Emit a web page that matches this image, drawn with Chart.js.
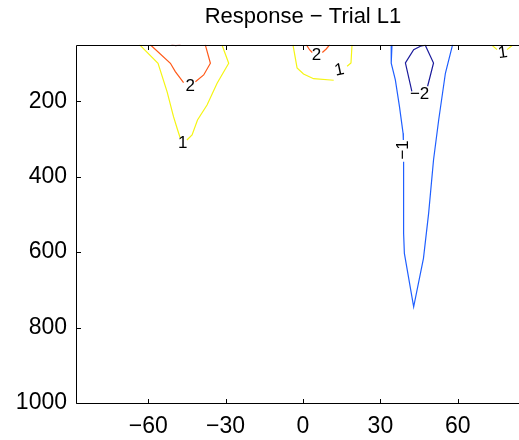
<!DOCTYPE html>
<html><head><meta charset="utf-8">
<script src="https://cdn.jsdelivr.net/npm/chart.js@4.4.1/dist/chart.umd.min.js"></script>
<style>html,body{margin:0;padding:0;overflow:hidden;background:#fff}#wrap{width:519px;height:440px;overflow:hidden}</style>
</head><body><div id="wrap"><canvas id="c" width="531" height="440"></canvas></div>
<script>
// Tick labels
const xTicks = [-60, -30, 0, 30, 60];
const yTicks = [200, 400, 600, 800, 1000];

// Contour level +1 (yellow), null = gap for inline label
const c1LeftX  = [-63.4, -56.2, -52.7, -50.2, -48.6, -47.6, null, -45.0, -43.0, -40.9, -37.2, -33.3, -28.8, -31.4];
const c1LeftY  = [50, 99.2, 174.5, 240.8, 276.1, 297.3, null, 302.7, 289.4, 249.6, 209.8, 152.3, 99.2, 50.7];
const c1MidX   = [-3.9, -2.3, 0.2, 4.1, 11.9, null, 17.1, 18.6, 19.0];
const c1MidY   = [50, 111.7, 127.6, 140.1, 144.3, null, 107.2, 98.4, 50];
const c1RightX = [73.3, 75.2, null, 79.1, 81.2];
const c1RightY = [51.5, 63.1, null, 63.1, 51.5];
// Contour level +2 (orange)
const c2LeftX  = [-59.2, -51.4, -49.5, -46.3, null, -41.7, -38.5, -35.9, -37.9];
const c2LeftY  = [50, 99.2, 121.5, 150.7, null, 148.0, 130.2, 99.2, 50];
const c2MidX   = [1.3, 2.6, 3.6, null, 7.5, 9.0, 10.4];
const c2MidY   = [50, 64.0, 70.6, null, 70.6, 61.3, 50];
// Contour level +3 (red)
const c3X = [-51.0, -49.3, -47.5];
const c3Y = [50, 52.5, 50];
// Contour level -1 (blue)
const cm1X = [34.5, 34.2, 35.8, 37.4, 38.8, 38.9, null, 39.0, 39.0, 39.3, 42.9, 46.7, 48.7, 50.6, 52.6, 55.2, 58.0];
const cm1Y = [50, 99.2, 143.5, 214.3, 284.9, 302.7, null, 360.2, 550.1, 603.2, 744.8, 616.4, 497.1, 355.7, 249.6, 125.7, 50];
// Contour level -2 (dark blue)
const cm2X = [42.2, 39.7, 42.9, 45.5, 47.4, 50.6, 49.3, 48.3];
const cm2Y = [173.5, 98.4, 63.1, 54.1, 51.5, 98.4, 133.7, 160.2];

// Inline contour labels
const labelText = ['1', '2', '1', '2', '\u22121', '\u22122', '1'];
const labelX    = [-46.6, -43.7, 14.1, 5.2, 38.9, 45.2, 77.4];
const labelY    = [311, 159.4, 117.8, 77.2, 329, 182.5, 71.9];
const labelRot  = [0, 0, -12, 0, -90, 0, -8];

const YEL = '#f5f514', ORA = '#ff5a1a', RED = '#c82828', BLU = '#1f5fff', DBL = '#1c1c9c';
const FONT = '"Liberation Sans", Arial, Helvetica, sans-serif';

function pts(xs, ys) { return xs.map((v, i) => ({ x: v, y: ys[i] })); }
function ds(xs, ys, col) {
  return { data: pts(xs, ys), borderColor: col, borderWidth: 1.2, showLine: true, pointRadius: 0, spanGaps: false, fill: false, tension: 0 };
}

const overlay = {
  id: 'overlay',
  afterDatasetsDraw(chart) {
    const { ctx, chartArea: a, scales: { x, y } } = chart;
    ctx.save();
    ctx.font = '17px ' + FONT;
    ctx.fillStyle = '#000';
    ctx.textAlign = 'center';
    ctx.textBaseline = 'middle';
    labelText.forEach((t, i) => {
      const px = x.getPixelForValue(labelX[i]), py = y.getPixelForValue(labelY[i]);
      ctx.save(); ctx.translate(px, py); ctx.rotate(labelRot[i] * Math.PI / 180); ctx.fillText(t, 0, 0); ctx.restore();
    });
    ctx.strokeStyle = '#000';
    ctx.lineWidth = 1;
    const L = Math.round(a.left) + 0.5, R = Math.round(a.right) + 0.5, T = Math.round(a.top) + 0.5, B = Math.round(a.bottom) + 0.5;
    ctx.beginPath();
    ctx.moveTo(L, T); ctx.lineTo(R, T); ctx.lineTo(R, B); ctx.lineTo(L, B); ctx.closePath();
    const tl = 4.5;
    x.ticks.forEach(t => {
      const p = Math.round(x.getPixelForValue(t.value)) + 0.5;
      ctx.moveTo(p, B); ctx.lineTo(p, B - tl);
      ctx.moveTo(p, T); ctx.lineTo(p, T + tl);
    });
    y.ticks.forEach(t => {
      const p = Math.round(y.getPixelForValue(t.value)) + 0.5;
      ctx.moveTo(L, p); ctx.lineTo(L + tl, p);
      ctx.moveTo(R, p); ctx.lineTo(R - tl, p);
    });
    ctx.stroke();
    ctx.restore();
  }
};

new Chart(document.getElementById('c'), {
  type: 'scatter',
  data: {
    datasets: [
      ds(c1LeftX, c1LeftY, YEL), ds(c1MidX, c1MidY, YEL), ds(c1RightX, c1RightY, YEL),
      ds(c2LeftX, c2LeftY, ORA), ds(c2MidX, c2MidY, ORA),
      ds(c3X, c3Y, RED),
      ds(cm1X, cm1Y, BLU), ds(cm2X, cm2Y, DBL)
    ]
  },
  options: {
    responsive: false,
    animation: false,
    layout: { padding: { left: 0, right: 1, top: 0, bottom: 0 } },
    plugins: {
      legend: { display: false },
      tooltip: { enabled: false },
      title: {
        display: true, fullSize: false, text: 'Response \u2212 Trial L1', color: '#000',
        font: { family: FONT, size: 22, weight: 'normal', lineHeight: 1.2 },
        padding: { top: 4, bottom: 14.3 }
      }
    },
    scales: {
      x: {
        type: 'linear', min: -88, max: 88,
        grid: { display: false, drawTicks: false },
        border: { display: false },
        afterBuildTicks: s => { s.ticks = xTicks.map(v => ({ value: v })); },
        afterFit: s => { s.height = 37; },
        ticks: { color: '#000', padding: 10, maxRotation: 0, autoSkip: false, font: { family: FONT, size: 23 },
          callback: v => v < 0 ? '\u2212' + Math.abs(v) : String(v) }
      },
      y: {
        type: 'linear', min: 50, max: 1000, reverse: true,
        grid: { display: false, drawTicks: false },
        border: { display: false },
        afterBuildTicks: s => { s.ticks = yTicks.map(v => ({ value: v })); },
        afterFit: s => { s.width = 76; },
        ticks: { color: '#000', padding: 9, autoSkip: false, font: { family: FONT, size: 23 },
          callback: v => String(v) }
      }
    }
  },
  plugins: [overlay]
});
</script></body></html>
